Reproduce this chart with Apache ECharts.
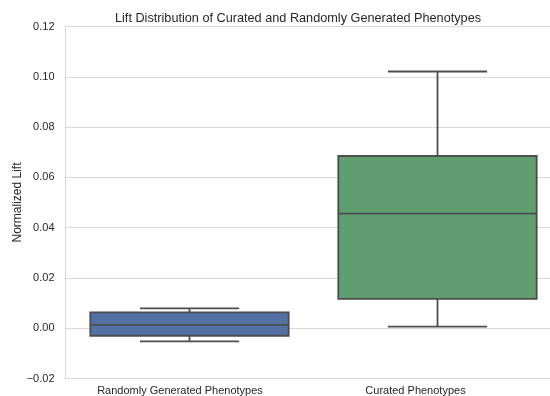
<!DOCTYPE html>
<html>
<head>
<meta charset="utf-8">
<script src="https://cdn.jsdelivr.net/npm/echarts@6/dist/echarts.min.js"></script>
<style>html,body{margin:0;padding:0;background:#fff}#c{width:550px;height:396px}</style>
</head>
<body>
<div id="c"></div>
<script>
const categories = ['Randomly Generated Phenotypes', 'Curated Phenotypes'];
const whiskerLow = [-0.0052, 0.0006];
const q1 = [-0.0030, 0.0117];
const median = [0.0013, 0.0456];
const q3 = [0.0063, 0.0685];
const whiskerHigh = [0.0079, 0.1021];
const yTicks = [-0.02, 0.00, 0.02, 0.04, 0.06, 0.08, 0.10, 0.12];

const fills = ['#5471a5', '#5f9e6e'];
const edge = '#4d4d4d';

const data = categories.map((c, i) => [i, whiskerLow[i], q1[i], median[i], q3[i], whiskerHigh[i]]);

const chart = echarts.init(document.getElementById('c'), null, {renderer: 'canvas'});
const txt = '#262626';
chart.setOption({
  animation: false,
  backgroundColor: '#fff',
  title: {
    text: 'Lift Distribution of Curated and Randomly Generated Phenotypes',
    left: 110, top: 7,
    textStyle: {fontFamily: 'Liberation Sans', fontSize: 12.7, fontWeight: 'normal', color: txt}
  },
  grid: {left: 65.5, width: 496, top: 26.5, bottom: 17.5, containLabel: false, outerBoundsMode: 'none'},
  xAxis: {
    type: 'category', data: categories, boundaryGap: true,
    axisLine: {show: false}, axisTick: {show: false}, splitLine: {show: false},
    axisLabel: {
      margin: 7, fontFamily: 'Liberation Sans', fontSize: 11, color: txt,
      formatter: (v, i) => i === 0 ? '{a|' + v + '}' : '{b|' + v + '}',
      rich: {
        a: {fontFamily: 'Liberation Sans', fontSize: 11, color: txt, padding: [0, 19, 0, 0]},
        b: {fontFamily: 'Liberation Sans', fontSize: 11, color: txt, padding: [0, 44, 0, 0]}
      }
    }
  },
  yAxis: {
    type: 'value', min: -0.02, max: 0.12, interval: 0.02,
    name: 'Normalized Lift', nameLocation: 'middle', nameGap: 42, nameRotate: 90,
    nameMoveOverlap: false,
    nameTextStyle: {fontFamily: 'Liberation Sans', fontSize: 12, color: txt},
    axisLine: {show: true, lineStyle: {color: '#d6d6d6', width: 1}},
    axisTick: {show: false},
    splitLine: {show: true, lineStyle: {color: '#d9d9d9', width: 1}},
    axisLabel: {
      margin: 11, fontFamily: 'Liberation Sans', fontSize: 11, color: txt,
      formatter: v => {
        const t = yTicks.reduce((a, b) => Math.abs(b - v) < Math.abs(a - v) ? b : a);
        return t.toFixed(2).replace('-', '\u2212');
      }
    }
  },
  series: [{
    type: 'custom',
    data: data,
    encode: {x: 0, y: [1, 2, 3, 4, 5]},
    renderItem: function (params, api) {
      const i = api.value(0);
      const bw = api.size([1, 0])[0];
      const boxW = bw * 0.8;
      const capW = boxW / 2;
      const pLo = api.coord([i, api.value(1)]);
      const pQ1 = api.coord([i, api.value(2)]);
      const pMed = api.coord([i, api.value(3)]);
      const pQ3 = api.coord([i, api.value(4)]);
      const pHi = api.coord([i, api.value(5)]);
      const x = pMed[0];
      const ls = {stroke: edge, lineWidth: 1.8, fill: null};
      return {
        type: 'group',
        children: [
          {type: 'line', shape: {x1: x, y1: pQ3[1], x2: x, y2: pHi[1]}, style: ls},
          {type: 'line', shape: {x1: x, y1: pQ1[1], x2: x, y2: pLo[1]}, style: ls},
          {type: 'line', shape: {x1: x - capW / 2, y1: pHi[1], x2: x + capW / 2, y2: pHi[1]}, style: ls},
          {type: 'line', shape: {x1: x - capW / 2, y1: pLo[1], x2: x + capW / 2, y2: pLo[1]}, style: ls},
          {type: 'rect', shape: {x: x - boxW / 2, y: pQ3[1], width: boxW, height: pQ1[1] - pQ3[1]},
            style: {fill: fills[i], stroke: edge, lineWidth: 1.8}},
          {type: 'line', shape: {x1: x - boxW / 2, y1: pMed[1], x2: x + boxW / 2, y2: pMed[1]}, style: ls}
        ]
      };
    }
  }]
});
</script>
</body>
</html>
